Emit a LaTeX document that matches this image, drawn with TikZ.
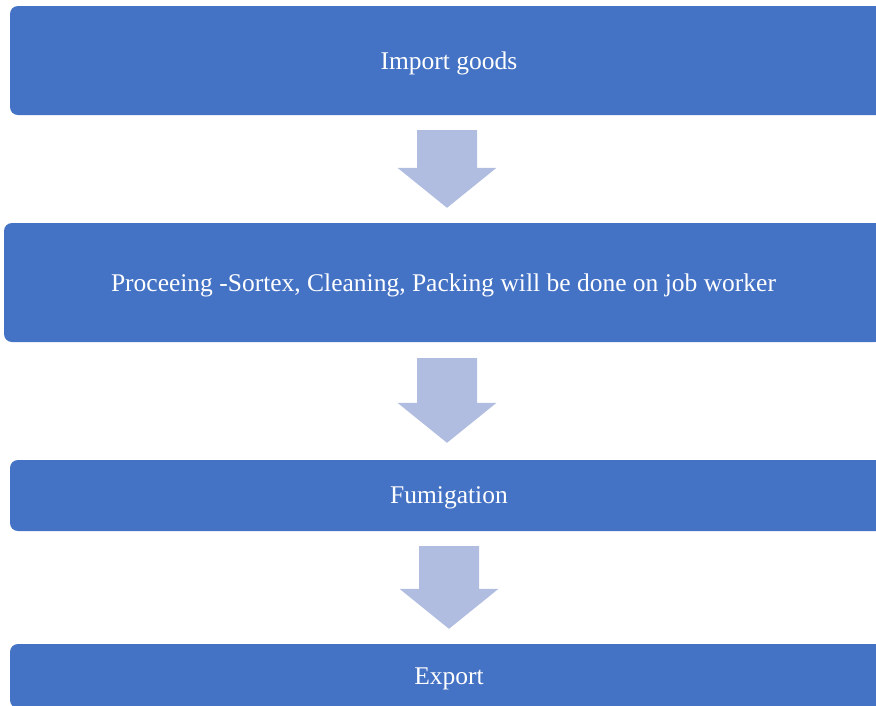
\documentclass[tikz,border=0pt]{standalone}
\usepackage{fontspec}
\setmainfont{Liberation Serif}
\usetikzlibrary{calc}
\definecolor{boxblue}{HTML}{4472C4}
\definecolor{arrowblue}{HTML}{B0BCE0}
\tikzset{
  stepbox/.style={fill=boxblue, rounded corners=8pt, text=white, inner sep=0pt,
    text depth=0pt, font={\fontsize{25.5pt}{30pt}\selectfont}},
  flowfill/.style={fill=arrowblue}}
% block arrow from shaft top #1 to tip #2
\newcommand{\blockarrow}[2]{%
  \fill[flowfill] ($(#1)+(-30,0)$) -- ($(#1)+(30,0)$) -- ($(#2)+(30,40)$)
    -- ($(#2)+(49.5,40)$) -- (#2) -- ($(#2)+(-49.5,40)$) -- ($(#2)+(-30,40)$) -- cycle;}

\begin{document}
\begin{tikzpicture}[x=1pt,y=1pt]
\clip (0,0) rectangle (876,-705);
\node[stepbox, minimum width=878, minimum height=109] (import) at (449,-60.5) {Import goods};
\node[stepbox, minimum width=879, minimum height=119] (process) at (443.5,-282.5)
  {Proceeing -Sortex, Cleaning, Packing will be done on job worker};
\node[stepbox, minimum width=878, minimum height=71] (fumig) at (449,-495.5) {Fumigation};
\node[stepbox, minimum width=878, minimum height=64] (export) at (449,-676) {Export};
\coordinate (s1) at ($(import.south)+(-2,-15)$);
\coordinate (t1) at ($(process.north)+(3.5,15)$);
\coordinate (s2) at ($(process.south)+(3.5,-16)$);
\coordinate (t2) at ($(fumig.north)+(-2,17)$);
\coordinate (s3) at ($(fumig.south)+(0,-15)$);
\coordinate (t3) at ($(export.north)+(0,15)$);
\blockarrow{s1}{t1}
\blockarrow{s2}{t2}
\blockarrow{s3}{t3}
\end{tikzpicture}
\end{document}
